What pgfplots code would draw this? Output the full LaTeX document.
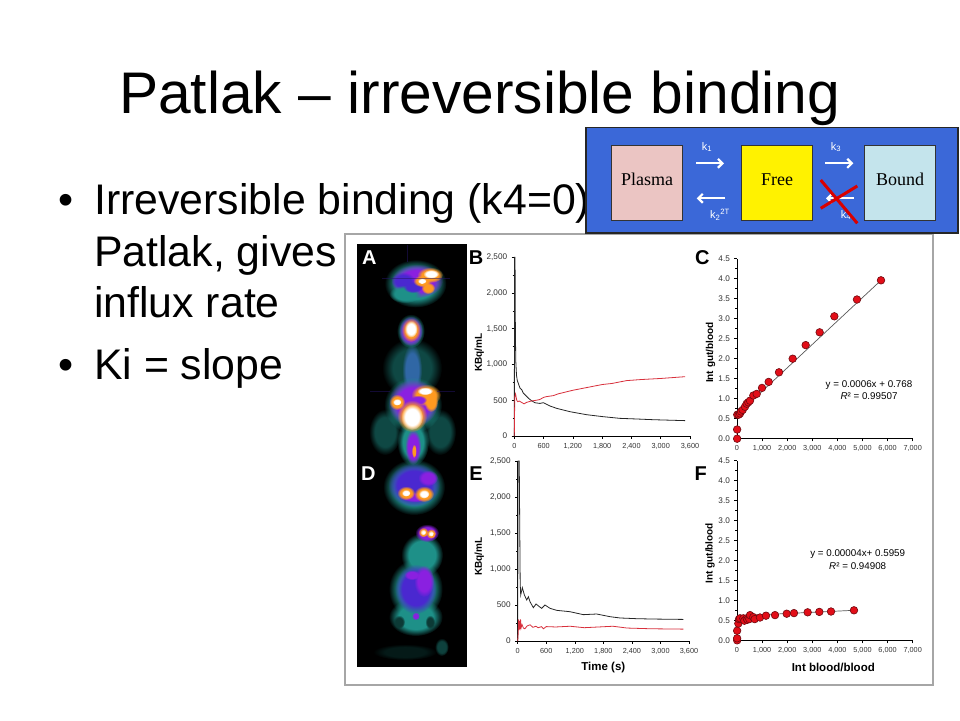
\documentclass[border=0pt]{standalone}
\usepackage{fontspec}
\setmainfont{Liberation Sans}
\newfontfamily\timesf{Liberation Serif}
\usepackage{pgfplots}
\pgfplotsset{compat=1.18}
\usetikzlibrary{fadings,arrows.meta}

\definecolor{diagblue}{HTML}{3B68D8}
\definecolor{plasmac}{HTML}{EBC5C3}
\definecolor{boundc}{HTML}{C4E4EC}
\definecolor{ptred}{HTML}{E20E18}
\definecolor{ptedge}{HTML}{6E0A10}
\definecolor{curvered}{HTML}{D8303C}
\definecolor{petteal}{HTML}{1E9088}
\definecolor{petpurple}{HTML}{8A20E0}
\definecolor{petblue}{HTML}{4A28D0}
\definecolor{petorange}{HTML}{FF9A20}

% opaque plateau, soft rim (the path's edge sits at 25bp)
\pgfdeclareradialshading{blobshade}{\pgfpoint{0bp}{0bp}}{color(0bp)=(white); color(16bp)=(white); color(25bp)=(black); color(50bp)=(black)}
\pgfdeclarefading{blobfade}{\pgfuseshading{blobshade}}

% soft spot of the PET images: x y rx ry colour, all in px from the top left
\newcommand{\blob}[5]{\fill[#5, path fading=blobfade] (#1pt,-#2pt) ellipse ({#3pt} and {#4pt});}

\newcommand{\fs}[1]{\fontsize{#1}{#1}\selectfont}

\tikzset{lab/.style={font=\fs{10}\bfseries}}

\pgfplotsset{
  panel/.style={
    scale only axis, clip=false, anchor=south west,
    axis lines=left, axis line style={-, line width=0.9pt},
    tick align=outside, tick style={black, line width=0.6pt},
    major tick length=2.6pt, minor tick length=1.6pt,
    y tick label style={font=\fs{8.2}, text=black!80, xshift=-1pt},
    x tick label style={font=\fs{7.3}, text=black!80, yshift=-1pt},
    /pgf/number format/assume math mode=true,
    /pgf/number format/1000 sep={,},
    scaled ticks=false, xmin=0, ymin=0,
    ytick pos=left, xtick pos=left,
  },
  timepanel/.style={panel, xmax=3600, ymax=2500,
    xtick={0,600,...,3600}, ytick={0,500,...,2500}, minor y tick num=1},
  ratiopanel/.style={panel, xmax=7000, ymax=4.5,
    xtick={0,1000,...,7000}, ytick={0,0.5,...,4.5}, minor y tick num=1,
    y tick label style={/pgf/number format/fixed, /pgf/number format/fixed zerofill, /pgf/number format/precision=1}},
  blackcurve/.style={black!85, line width=0.8pt, no markers},
  redcurve/.style={curvered, line width=0.8pt, no markers},
  fitline/.style={black!65, line width=0.7pt, no markers},
  pts/.style={only marks, mark=*, mark size=3.8pt, mark options={fill=ptred, draw=ptedge, line width=0.6pt}},
}

\begin{document}
\begin{tikzpicture}
\path[use as bounding box, fill=white] (0,0) rectangle (960pt,-720pt);

% slide text
\node[anchor=base west, inner sep=0, font=\fs{58.7}] at (119pt,-113pt) {Patlak – irreversible binding};
\node[anchor=base west, inner sep=0, font=\fs{43}] at (58pt,-214pt) {•};
\node[anchor=base west, inner sep=0, font=\fs{43}] at (58pt,-379pt) {•};
\node[anchor=base west, inner sep=0, font=\fs{42.8}] at (94pt,-214pt) {Irreversible binding (k4=0)};
\node[anchor=base west, inner sep=0, font=\fs{42.8}] at (94pt,-266pt) {Patlak, gives};
\node[anchor=base west, inner sep=0, font=\fs{42.8}] at (94pt,-317pt) {influx rate};
\node[anchor=base west, inner sep=0, font=\fs{42.8}] at (94pt,-379pt) {Ki = slope};

% figure sheet
\draw[fill=white, draw=black!35, line width=1.3pt] (345pt,-234pt) rectangle (933pt,-685pt);

% PET images
\fill[black] (356.7pt,-244.3pt) rectangle (466.7pt,-667.3pt);
\begin{scope}
\clip (356.7pt,-244.3pt) rectangle (466.7pt,-667.3pt);
% A, top view
\blob{415.5}{283.5}{31}{24}{petteal}
\blob{417}{281}{26}{17}{petpurple}
\blob{403}{281}{12}{9}{petblue}
\blob{405}{294}{16}{9}{petteal}
\blob{413}{287}{10}{6}{petblue}
\blob{430}{275}{13}{8}{petorange}
\blob{422}{281}{9}{6}{petorange}
\blob{428}{288}{7}{6}{petorange}
\blob{431}{274}{8}{4.5}{white}
\blob{422}{281}{4.5}{3}{white}
% A, body
\blob{412}{368}{30}{30}{petteal!50!black}
\blob{412}{370}{10}{26}{petteal!60!petblue}
\blob{410.7}{331}{14}{17}{petteal}
\blob{410.7}{331}{12}{15}{petpurple}
\blob{411}{330}{9.5}{12}{petorange}
\blob{411}{329}{6.5}{8.5}{white}
\blob{385}{432}{16}{23}{petteal!50!black}
\blob{440}{432}{16}{23}{petteal!50!black}
\blob{413}{442}{16}{24}{petteal}
\blob{413}{447}{8}{18}{petpurple}
\blob{414}{451}{2.5}{7}{petorange}
\blob{413}{405}{29}{28}{petteal}
\blob{413}{403}{25}{24}{petpurple}
\blob{426}{395}{15}{11}{petorange}
\blob{431}{402}{7}{10}{petorange}
\blob{425}{391}{8}{4}{white}
\blob{418}{400}{9}{5}{petpurple}
\blob{397}{402}{8}{8}{petorange}
\blob{397}{402}{4.5}{3.5}{white}
\blob{412}{416}{15}{16}{petorange}
\blob{412}{417}{11}{13}{white}
\draw[petblue!50!black, opacity=0.5, line width=0.4pt] (382pt,-278pt) -- (450pt,-278pt);
\draw[petblue!50!black, opacity=0.5, line width=0.4pt] (406.7pt,-245pt) -- (406.7pt,-262pt);
\draw[petblue!50!black, opacity=0.5, line width=0.4pt] (370pt,-391pt) -- (390pt,-391pt);
\draw[petblue!50!black, opacity=0.5, line width=0.4pt] (437pt,-391pt) -- (455pt,-391pt);
% D, top view
\blob{414}{487}{31}{28}{petteal}
\blob{414}{485}{26}{22}{petblue}
\blob{428}{478}{10}{8}{petpurple}
\blob{415}{497}{15}{5}{petpurple}
\blob{406}{493}{9}{7}{petorange}
\blob{424}{494}{10}{8}{petorange}
\blob{406}{493}{4.5}{3.5}{white}
\blob{424}{494}{5.5}{4.5}{white}
% D, body
\blob{422}{555}{21}{22}{petteal}
\blob{427}{533}{12}{9}{petpurple}
\blob{423.3}{532.3}{5}{5}{petorange}
\blob{431}{533.7}{5}{5}{petorange}
\blob{423.3}{532.3}{2.8}{2.8}{white}
\blob{431}{533.7}{2.8}{2.8}{white}
\blob{415.7}{617}{27}{19}{petteal}
\blob{399}{622}{6}{7}{petteal!40!black}
\blob{430}{622}{5}{7}{petteal!40!black}
\blob{415.7}{589}{27}{30}{petteal}
\blob{415.7}{589}{21}{25}{petblue}
\blob{424}{581}{10}{16}{petpurple}
\blob{412}{575}{8}{5}{petpurple}
\blob{415.7}{616}{4}{4}{petpurple}
\blob{441.7}{647}{7}{9}{petteal!45!black}
\blob{405}{652}{32}{8}{petteal!18!black}
\end{scope}
\node[white, font=\fs{20}\bfseries] at (369.3pt,-257.7pt) {A};
\node[white, font=\fs{20}\bfseries] at (368.3pt,-473.3pt) {D};
\node[black, font=\fs{20}\bfseries] at (476pt,-257.5pt) {B};
\node[black, font=\fs{20}\bfseries] at (702.3pt,-257.7pt) {C};
\node[black, font=\fs{20}\bfseries] at (476pt,-473.3pt) {E};
\node[black, font=\fs{20}\bfseries] at (700.7pt,-473.3pt) {F};

% B
\begin{axis}[timepanel, at={(514.3pt,-436pt)}, width=175.7pt, height=178.7pt,
  ylabel={KBq/mL},
  every axis y label/.style={at={(axis description cs:-0.199,0.466)}, rotate=90, anchor=center, lab}]
\addplot[blackcurve] coordinates {(0,0) (5,2500) (15,2500) (22,1500) (30,1050) (45,850) (60,780) (90,720) (120,666) (150,650) (185,600) (230,570) (287,530) (350,495) (424,465) (526,456) (595,466) (731,420) (868,387) (1141,340) (1483,298) (1824,270) (2166,247) (2508,238) (2850,228) (3500,215)};
\addplot[redcurve] coordinates {(0,0) (5,300) (10,550) (25,590) (50,500) (70,480) (100,490) (150,470) (200,450) (250,470) (300,480) (350,490) (450,500) (520,510) (600,540) (650,550) (800,565) (900,590) (1200,640) (1500,680) (1800,720) (2000,735) (2300,775) (2600,790) (3000,805) (3500,830)};
\end{axis}

% C
\begin{axis}[ratiopanel, at={(737pt,-438.7pt)}, width=175.7pt, height=180pt,
  ylabel={Int gut/blood},
  every axis y label/.style={at={(axis description cs:-0.15,0.478)}, rotate=90, anchor=center, lab}]
\addplot[fitline] coordinates {(0,0.6) (5737,3.96)};
\addplot[pts] coordinates {(5,0) (5,0.23) (10,0.6) (66,0.6) (120,0.63) (160,0.68) (226,0.72) (319,0.8) (385,0.875) (450,0.91) (518,0.95) (650,1.08) (784,1.12) (996,1.27) (1262,1.42) (1673,1.66) (2218,2) (2736,2.34) (3293,2.66) (3878,3.06) (4780,3.48) (5737,3.96)};
\end{axis}
\node[font=\fs{9.8}] at (869pt,-385pt) {y = 0.0006x + 0.768};
\node[font=\fs{9.8}] at (869pt,-395.7pt) {\textit{R}² = 0.99507};

% E
\begin{axis}[timepanel, at={(517.7pt,-641pt)}, width=171.3pt, height=180pt,
  xlabel={Time (s)}, ylabel={KBq/mL},
  every axis x label/.style={at={(axis description cs:0.5,-0.146)}, anchor=center, font=\fs{11.5}\bfseries},
  every axis y label/.style={at={(axis description cs:-0.224,0.468)}, rotate=90, anchor=center, lab}]
\addplot[blackcurve] coordinates {(0,0) (8,2500) (32,2500) (45,1400) (52,800) (63,640) (98,740) (140,640) (189,570) (224,615) (259,545) (329,463) (385,514) (455,477) (504,454) (574,500) (679,454) (819,426) (1099,407) (1379,366) (1659,375) (1939,338) (2150,320) (2500,310) (2850,305) (3480,300)};
\addplot[redcurve] coordinates {(0,0) (10,100) (20,300) (30,150) (40,280) (50,170) (60,300) (70,180) (90,230) (120,180) (150,170) (200,210) (260,225) (320,190) (380,205) (430,185) (500,200) (540,170) (600,200) (800,195) (1100,205) (1400,185) (1700,195) (2000,205) (2300,180) (2800,170) (3480,165)};
\end{axis}

% F
\begin{axis}[ratiopanel, at={(737pt,-640.7pt)}, width=175.7pt, height=180pt,
  xlabel={Int blood/blood}, ylabel={Int gut/blood},
  every axis x label/.style={at={(axis description cs:0.548,-0.148)}, anchor=center, font=\fs{11.5}\bfseries},
  every axis y label/.style={at={(axis description cs:-0.154,0.486)}, rotate=90, anchor=center, lab}]
\addplot[fitline] coordinates {(5,0.62) (4660,0.76)};
\addplot[pts] coordinates {(5,0.01) (5,0.06) (5,0.25) (53,0.43) (80,0.54) (120,0.56) (252,0.56) (292,0.5) (385,0.56) (412,0.525) (490,0.54) (518,0.64) (650,0.59) (704,0.54) (916,0.58) (1155,0.625) (1514,0.64) (1980,0.675) (2270,0.69) (2815,0.71) (3280,0.72) (3745,0.73) (4660,0.76)};
\end{axis}
\node[font=\fs{9.8}] at (857.7pt,-554.3pt) {y = 0.00004x+ 0.5959};
\node[font=\fs{9.8}] at (857.7pt,-565.7pt) {\textit{R}² = 0.94908};

% compartment diagram
\draw[fill=diagblue, draw=black!85, line width=1.6pt] (586pt,-127.3pt) rectangle (957.7pt,-232.7pt);
\draw[fill=plasmac, draw=black!80, line width=1pt] (611.7pt,-145.3pt) rectangle (682.3pt,-220pt);
\draw[fill=yellow, draw=black!80, line width=1pt] (741.7pt,-145.3pt) rectangle (812pt,-220pt);
\draw[fill=boundc, draw=black!80, line width=1pt] (864.7pt,-145.3pt) rectangle (935pt,-220pt);
\node[anchor=base, font=\timesf\fs{18}] at (647pt,-185pt) {Plasma};
\node[anchor=base, font=\timesf\fs{18}] at (777pt,-185pt) {Free};
\node[anchor=base, font=\timesf\fs{18}] at (900pt,-185pt) {Bound};
\begin{scope}[white, line width=2.2pt, -{Straight Barb[length=4.5pt,width=9pt]}]
\draw (696pt,-163.3pt) -- (724pt,-163.3pt);
\draw (825pt,-163.3pt) -- (853.3pt,-163.3pt);
\draw (725.3pt,-198.3pt) -- (696.7pt,-198.3pt);
\draw (854pt,-198.3pt) -- (826pt,-198.3pt);
\end{scope}
\node[white, font=\fs{11}] at (707pt,-147pt) {k\textsubscript{1}};
\node[white, font=\fs{11}] at (836pt,-147pt) {k\textsubscript{3}};
\node[white, font=\fs{11}] at (720pt,-215pt) {k\textsubscript{2}\textsuperscript{2T}};
\node[white, font=\fs{11}] at (846pt,-215pt) {k\textsubscript{4}};
\draw[red!85!black, line width=3pt] (820.7pt,-180pt) -- (857.3pt,-223.3pt);
\draw[red!85!black, line width=3pt] (820.7pt,-208.3pt) -- (857.3pt,-186pt);
\end{tikzpicture}
\end{document}
